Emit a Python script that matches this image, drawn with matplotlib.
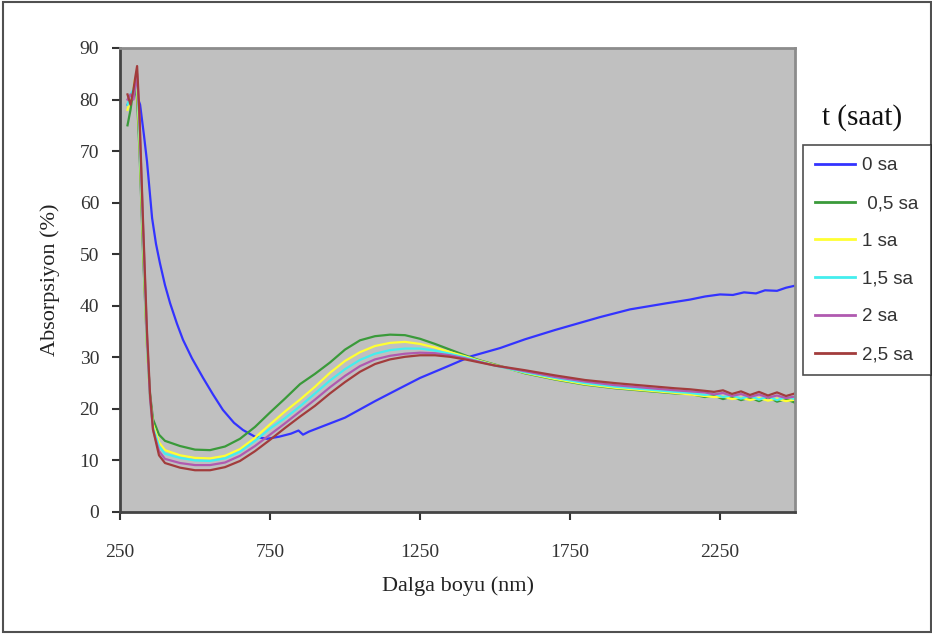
import numpy as np
import matplotlib
matplotlib.use("Agg")
import matplotlib.pyplot as plt
from matplotlib.patches import Rectangle
from matplotlib.lines import Line2D

# ---- data ----
labels = ["0 sa", " 0,5 sa", "1 sa", "1,5 sa", "2 sa", "2,5 sa"]
colors = ["#3333ff", "#3a9a3a", "#ffff33", "#44eeee", "#b05ab0", "#a23c3c"]

wl_0 = [275, 285, 295, 305, 317, 330, 340, 357, 370, 383, 400, 417, 440, 460, 490,
        527, 560, 593, 630, 660, 700, 740, 780, 820, 845, 860, 880, 920, 1000, 1100,
        1173, 1250, 1340, 1420, 1517, 1600, 1700, 1850, 1950, 2073, 2150, 2200, 2250,
        2293, 2330, 2370, 2400, 2440, 2470, 2500]
abs_0 = [79, 80, 81.5, 81, 79, 73, 68, 57, 52, 48.3, 44, 40.5, 36.5, 33.4, 29.8,
         26, 22.8, 19.8, 17.3, 15.9, 14.6, 14.2, 14.6, 15.2, 15.8, 15.0, 15.6, 16.5, 18.3, 21.5,
         23.7, 26, 28.2, 30.2, 31.8, 33.5, 35.3, 37.8, 39.3, 40.5, 41.2, 41.8, 42.2,
         42.1, 42.6, 42.4, 43.0, 42.9, 43.5, 43.9]

# shared wavelength grid for the irradiated samples
wl = [275, 285, 295, 300, 307, 315, 327, 340, 350, 360, 380, 400, 450, 500, 550,
      600, 650, 700, 750, 800, 850, 900, 950, 1000, 1050, 1100, 1150, 1200, 1250,
      1300, 1350, 1400, 1450, 1500, 1600, 1700, 1800, 1900, 2000, 2100, 2150, 2200,
      2230, 2260, 2290, 2320, 2350, 2380, 2410, 2440, 2470, 2500]

abs_05 = [75, 78, 82, 83, 80, 70, 50, 32, 23, 18, 15, 13.8, 12.8, 12.1, 12,
          12.7, 14.2, 16.5, 19.3, 22, 24.8, 26.8, 29, 31.5, 33.3, 34.1, 34.4, 34.3, 33.6,
          32.6, 31.5, 30.4, 29.4, 28.6, 26.9, 25.7, 24.7, 24.0, 23.5, 23.0, 22.9, 22.3,
          22.6, 21.9, 22.4, 21.7, 22.2, 21.5, 22.3, 21.4, 21.9, 21.2]
abs_1 = [78, 80, 82, 84, 82, 72, 52, 32, 22, 17, 13.5, 12, 11, 10.5, 10.4,
         10.9, 12.2, 14.4, 17, 19.5, 21.8, 24.3, 27, 29.3, 31, 32.2, 32.8, 33, 32.6,
         31.9, 31.0, 30.2, 29.3, 28.5, 27.0, 25.8, 24.8, 24.1, 23.6, 23.1, 22.8, 22.5,
         22.3, 22.4, 21.9, 22.2, 21.7, 22.1, 21.6, 22.0, 21.5, 21.8]
abs_15 = [79, 81, 82, 83, 84, 74, 54, 33, 22, 16.5, 12.8, 11.3, 10.5, 10, 9.9,
          10.4, 11.7, 13.8, 16.2, 18.2, 20.5, 23, 25.5, 27.7, 29.5, 30.7, 31.4, 31.7, 31.7,
          31.3, 30.7, 30.0, 29.2, 28.4, 27.1, 26.0, 25.0, 24.3, 23.8, 23.3, 23.1, 22.7,
          22.9, 22.3, 22.6, 22.0, 22.5, 21.8, 22.4, 21.7, 22.3, 21.9]
abs_2 = [80, 81, 80, 82, 85, 76, 55, 34, 22, 16, 11.8, 10.3, 9.5, 9.1, 9.1,
         9.6, 10.9, 12.8, 15, 17.2, 19.5, 21.8, 24.2, 26.4, 28.3, 29.6, 30.3, 30.7, 30.9,
         30.8, 30.4, 29.8, 29.1, 28.4, 27.3, 26.2, 25.3, 24.6, 24.1, 23.6, 23.4, 23.2,
         22.8, 23.1, 22.5, 22.9, 22.3, 22.8, 22.2, 22.6, 22.1, 22.4]
abs_25 = [81, 79, 82, 84, 86.5, 77, 56, 35, 23, 16, 11, 9.5, 8.6, 8.1, 8.1,
          8.7, 9.9, 11.8, 14, 16.3, 18.5, 20.6, 23, 25.2, 27.2, 28.7, 29.6, 30.1, 30.4,
          30.4, 30.1, 29.6, 29.0, 28.4, 27.5, 26.5, 25.6, 25.0, 24.5, 24.0, 23.8, 23.5,
          23.3, 23.6, 22.9, 23.4, 22.7, 23.3, 22.6, 23.2, 22.5, 23.0]

x_ticks = [250, 750, 1250, 1750, 2250]
y_ticks = list(range(0, 91, 10))

serif = "Liberation Serif"

fig = plt.figure(figsize=(9.32, 6.34), dpi=100)
fig.patch.set_facecolor("white")
# outer chart frame
fig.add_artist(Rectangle((3 / 932, 2 / 634), 928 / 932, 630 / 634, transform=fig.transFigure,
                         fill=False, edgecolor="#505050", linewidth=1.5))

ax = fig.add_axes([120 / 932, (634 - 512) / 634, 675 / 932, 464 / 634])
ax.set_facecolor("#c0c0c0")

ax.plot(wl_0, abs_0, color=colors[0], lw=1.6)
series = [abs_05, abs_1, abs_15, abs_2, abs_25]
for vals, c in zip(series, colors[1:]):
    ax.plot(wl, vals, color=c, lw=1.6)

ax.set_xlim(250, 2500)
ax.set_ylim(0, 90)
ax.set_xticks(x_ticks)
ax.set_yticks(y_ticks)
ax.tick_params(direction="out", length=6, width=1.5, color="#333333",
               labelsize=14, labelcolor="#333333")
ax.tick_params(axis="y", pad=9)
ax.tick_params(axis="x", pad=17)
for lab in ax.get_xticklabels() + ax.get_yticklabels():
    lab.set_family(serif)

for side in ["left", "bottom"]:
    ax.spines[side].set_color("#444444")
    ax.spines[side].set_linewidth(2)
for side in ["top", "right"]:
    ax.spines[side].set_color("#8c8c8c")
    ax.spines[side].set_linewidth(2)

ax.set_xlabel("Dalga boyu (nm)", family=serif, fontsize=16, color="#222222", labelpad=11)
ax.set_ylabel("Absorpsiyon (%)", family=serif, fontsize=16, color="#222222", labelpad=14)

# legend with title outside the box
fig.text(862 / 932, 1 - 118 / 634, "t (saat)", family=serif, fontsize=21,
         ha="center", va="center", color="#111111")
handles = [Line2D([], [], color=c, lw=2) for c in colors]
leg = fig.legend(handles, labels, loc="upper left",
                 bbox_to_anchor=(803 / 932, 1 - 145 / 634),
                 frameon=True, fancybox=False, edgecolor="#222222",
                 prop={"family": "Liberation Sans", "size": 13.5}, handlelength=2.1,
                 handletextpad=0.4, labelspacing=1.1, borderpad=0.65,
                 borderaxespad=0)
leg.get_frame().set_linewidth(1.2)
for t in leg.get_texts():
    t.set_color("#333333")

fig.savefig("out.png", dpi=100)
